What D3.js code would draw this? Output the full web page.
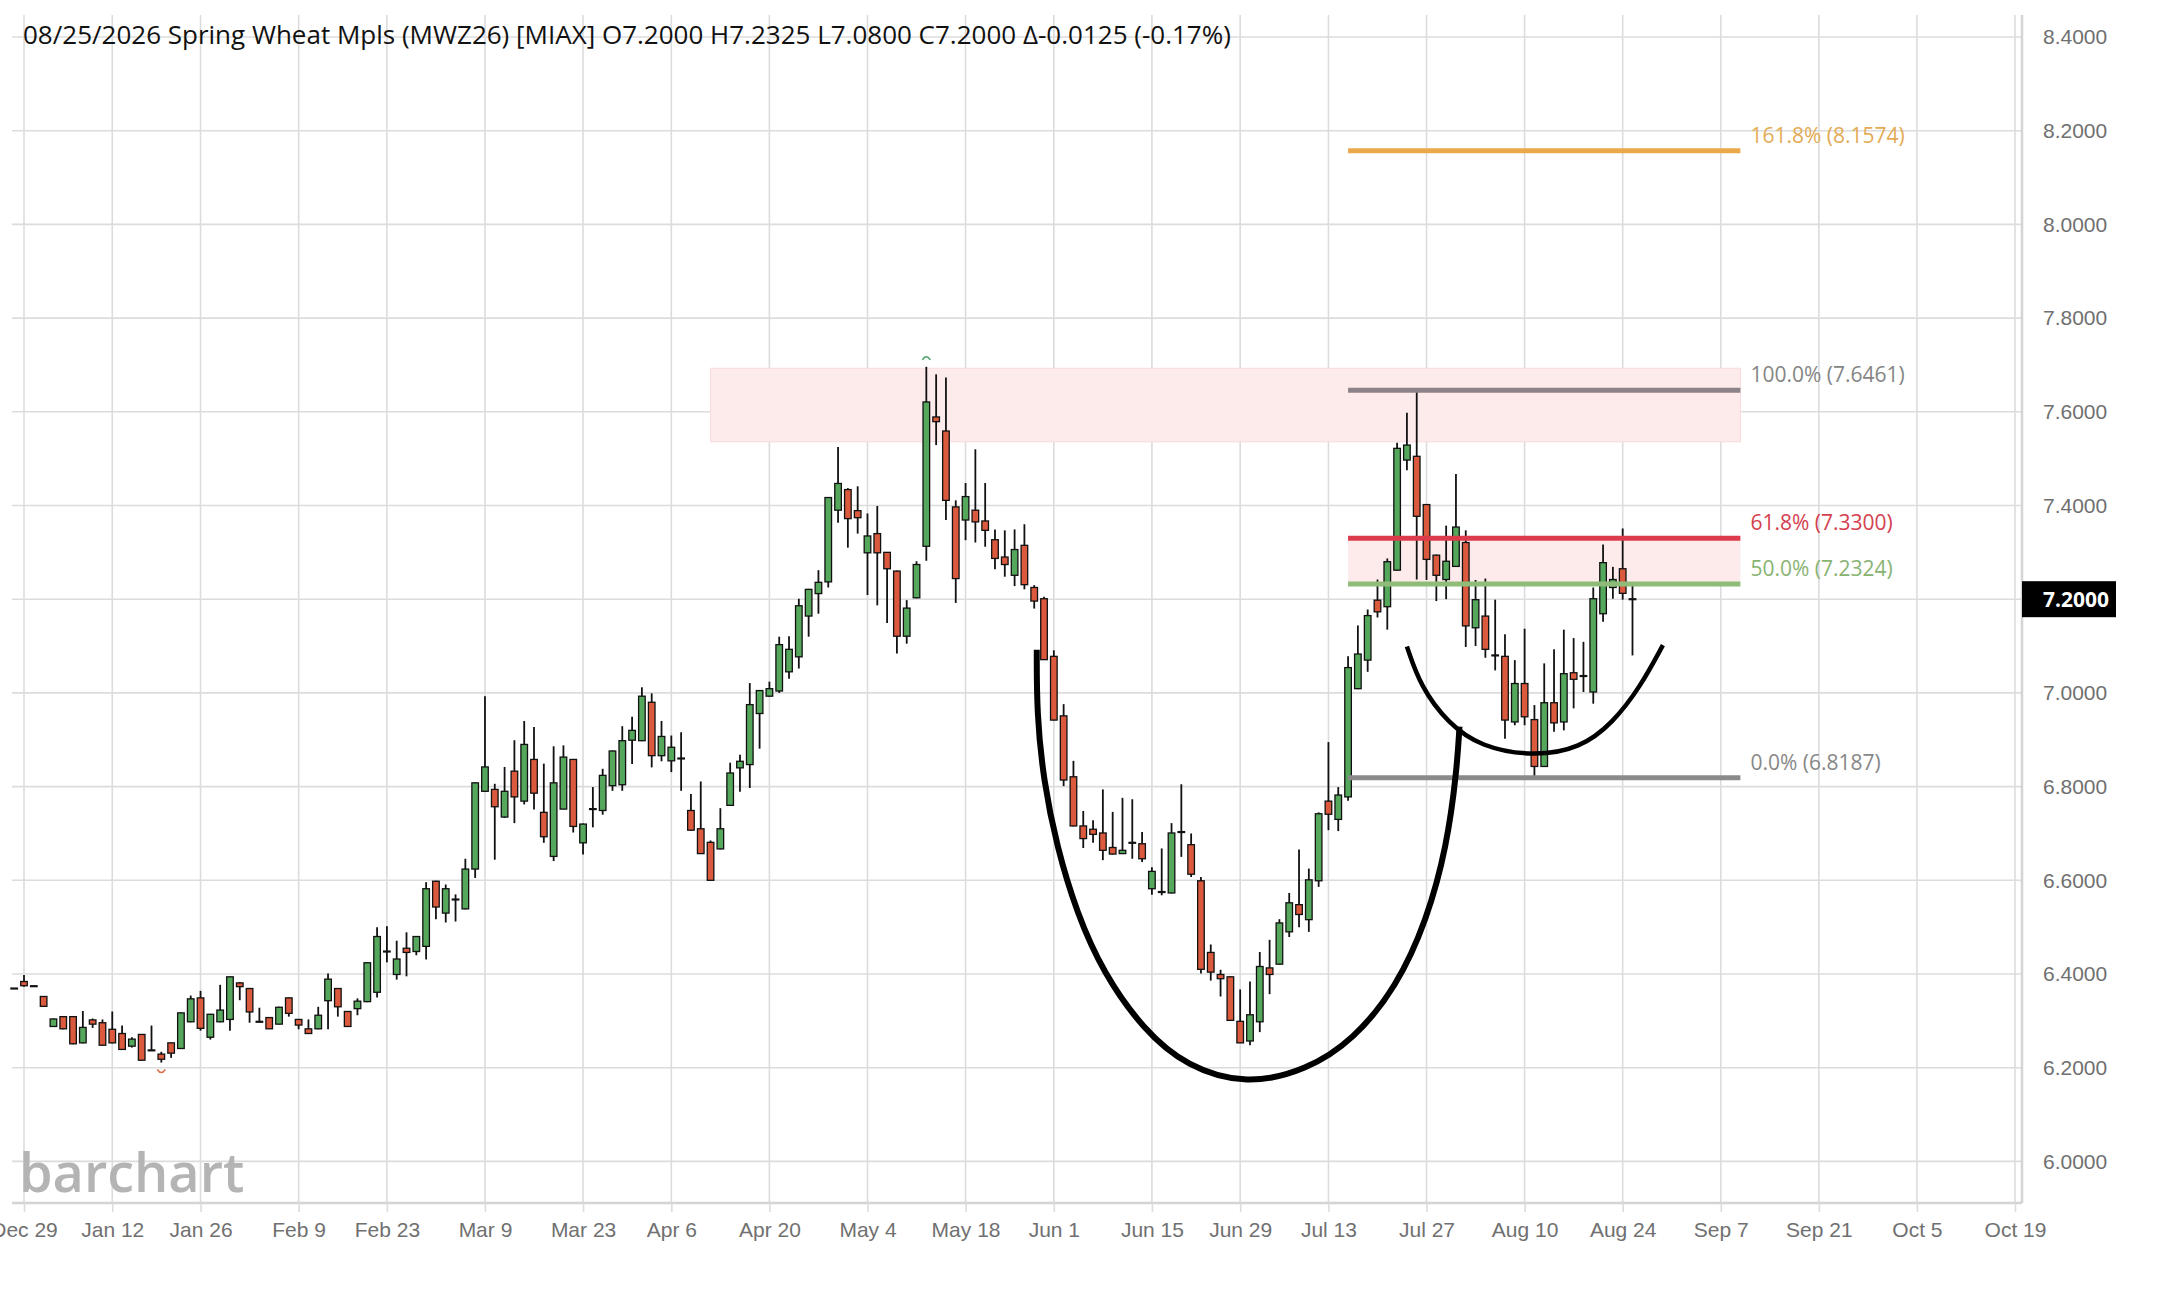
<!DOCTYPE html>
<html>
<head>
<meta charset="utf-8">
<script src="https://cdn.jsdelivr.net/npm/d3@7"></script>
<style>
  body { margin: 0; background: #fff; }
  svg { display: block; font-family: "Open Sans", sans-serif; }
</style>
</head>
<body>
<svg width="2161" height="1293"></svg>
<script>
// daily bars, MWZ26, 12/26/2025 .. 08/25/2026
const firstDay = "2025-12-26";
const lastAxisDay = "2026-10-19";
const holidays = ["2026-01-01", "2026-01-19", "2026-02-16", "2026-04-03", "2026-05-25", "2026-06-19", "2026-07-03"];

const opens = [6.369,
  6.384, 6.374, 6.352, 6.288, 6.309, 6.309, 6.253, 6.302, 6.296,
  6.282, 6.273, 6.246, 6.271, 6.237, 6.229, 6.253, 6.241, 6.298,
  6.349, 6.265, 6.298, 6.303, 6.381, 6.369, 6.298, 6.307, 6.293, 6.349,
  6.303, 6.283, 6.283, 6.343, 6.369, 6.320, 6.326, 6.341, 6.361,
  6.448, 6.399, 6.455, 6.448, 6.459, 6.598, 6.530, 6.559, 6.539, 6.624,
  6.790, 6.794, 6.735, 6.833, 6.769, 6.858, 6.745, 6.651, 6.752, 6.858,
  6.680, 6.752, 6.749, 6.802, 6.804, 6.899, 6.898, 6.980, 6.866,
  6.855, 6.860, 6.749, 6.710, 6.681, 6.667, 6.760, 6.840, 6.847, 6.956,
  6.993, 7.004, 7.045, 7.077, 7.164, 7.212, 7.237, 7.390, 7.434, 7.389,
  7.299, 7.340, 7.300, 7.260, 7.121, 7.203, 7.313, 7.589, 7.559, 7.397,
  7.369, 7.390, 7.367, 7.327, 7.290, 7.251, 7.315, 7.225, 7.201,
  7.078, 6.951, 6.821, 6.716, 6.709, 6.701, 6.670, 6.657, 6.680, 6.678,
  6.582, 6.575, 6.573, 6.703, 6.676, 6.599, 6.446, 6.399, 6.394,
  6.299, 6.257, 6.298, 6.413, 6.421, 6.490, 6.548, 6.516, 6.599,
  6.769, 6.730, 6.778, 7.009, 7.070, 7.198, 7.184, 7.262, 7.497, 7.505,
  7.402, 7.294, 7.242, 7.270, 7.321, 7.139, 7.164, 7.080, 7.078, 6.938,
  7.020, 6.943, 6.843, 6.979, 6.938, 7.043, 7.036, 7.002, 7.169, 7.225,
  7.265, 7.200];
const highs = [6.370,
  6.398, 6.375, 6.353, 6.305, 6.310, 6.310, 6.321, 6.305, 6.303,
  6.320, 6.290, 6.265, 6.272, 6.290, 6.234, 6.254, 6.318, 6.354,
  6.364, 6.315, 6.377, 6.394, 6.383, 6.370, 6.328, 6.308, 6.330, 6.350,
  6.304, 6.303, 6.330, 6.401, 6.370, 6.321, 6.348, 6.425, 6.500,
  6.502, 6.471, 6.489, 6.481, 6.596, 6.599, 6.591, 6.570, 6.646, 6.809,
  6.993, 6.806, 6.842, 6.899, 6.940, 6.927, 6.849, 6.886, 6.888, 6.859,
  6.721, 6.799, 6.838, 6.877, 6.929, 6.949, 7.012, 6.999, 6.940,
  6.909, 6.916, 6.784, 6.811, 6.685, 6.754, 6.851, 6.868, 7.021, 7.006,
  7.024, 7.120, 7.121, 7.201, 7.222, 7.262, 7.418, 7.525, 7.437, 7.441,
  7.383, 7.399, 7.301, 7.261, 7.198, 7.281, 7.696, 7.680, 7.673, 7.411,
  7.448, 7.520, 7.448, 7.349, 7.347, 7.349, 7.360, 7.230, 7.205,
  7.091, 6.976, 6.855, 6.748, 6.728, 6.794, 6.746, 6.776, 6.773, 6.703,
  6.628, 6.668, 6.722, 6.805, 6.700, 6.607, 6.463, 6.409, 6.395,
  6.367, 6.384, 6.447, 6.473, 6.517, 6.573, 6.666, 6.625, 6.745,
  6.895, 6.799, 7.078, 7.144, 7.178, 7.242, 7.287, 7.534, 7.598, 7.646,
  7.403, 7.295, 7.357, 7.467, 7.347, 7.241, 7.244, 7.199, 7.125, 7.070,
  7.137, 6.974, 7.063, 7.093, 7.135, 7.117, 7.109, 7.225, 7.317, 7.269,
  7.351, 7.2325];
const lows = [6.368,
  6.373, 6.373, 6.330, 6.287, 6.282, 6.250, 6.252, 6.285, 6.247,
  6.252, 6.238, 6.243, 6.215, 6.236, 6.211, 6.221, 6.240, 6.297,
  6.279, 6.260, 6.297, 6.279, 6.344, 6.296, 6.297, 6.283, 6.292, 6.309,
  6.282, 6.272, 6.282, 6.282, 6.309, 6.287, 6.312, 6.340, 6.350,
  6.425, 6.388, 6.395, 6.440, 6.431, 6.517, 6.510, 6.512, 6.538, 6.605,
  6.789, 6.644, 6.733, 6.722, 6.762, 6.751, 6.680, 6.641, 6.752, 6.702,
  6.655, 6.713, 6.740, 6.791, 6.791, 6.848, 6.897, 6.841, 6.854,
  6.831, 6.791, 6.706, 6.656, 6.600, 6.666, 6.759, 6.789, 6.797, 6.881,
  6.992, 7.000, 7.030, 7.052, 7.120, 7.169, 7.225, 7.363, 7.310, 7.340,
  7.209, 7.187, 7.149, 7.084, 7.105, 7.202, 7.282, 7.529, 7.369, 7.192,
  7.326, 7.321, 7.312, 7.264, 7.248, 7.228, 7.221, 7.180, 7.070,
  6.941, 6.801, 6.715, 6.669, 6.680, 6.643, 6.655, 6.656, 6.646, 6.639,
  6.569, 6.568, 6.572, 6.650, 6.607, 6.401, 6.386, 6.352, 6.301,
  6.253, 6.248, 6.276, 6.357, 6.420, 6.479, 6.500, 6.490, 6.586,
  6.707, 6.705, 6.770, 7.008, 7.045, 7.161, 7.135, 7.261, 7.475, 7.242,
  7.241, 7.196, 7.200, 7.269, 7.098, 7.100, 7.075, 7.048, 6.902, 6.931,
  6.931, 6.819, 6.842, 6.917, 6.920, 6.967, 7.002, 6.977, 7.152, 7.201,
  7.199, 7.080];
const closes = [6.369,
  6.375, 6.374, 6.331, 6.304, 6.283, 6.251, 6.286, 6.293, 6.248,
  6.253, 6.239, 6.261, 6.216, 6.237, 6.218, 6.231, 6.317, 6.347,
  6.284, 6.314, 6.323, 6.394, 6.373, 6.319, 6.298, 6.283, 6.329, 6.316,
  6.291, 6.273, 6.312, 6.389, 6.330, 6.288, 6.342, 6.424, 6.480,
  6.448, 6.432, 6.446, 6.480, 6.582, 6.543, 6.582, 6.559, 6.624, 6.808,
  6.842, 6.757, 6.790, 6.778, 6.890, 6.786, 6.693, 6.808, 6.863, 6.715,
  6.720, 6.752, 6.824, 6.876, 6.898, 6.920, 6.993, 6.866, 6.907,
  6.884, 6.860, 6.707, 6.657, 6.600, 6.710, 6.829, 6.854, 6.975, 7.005,
  7.009, 7.103, 7.093, 7.186, 7.221, 7.236, 7.417, 7.447, 7.372, 7.374,
  7.335, 7.299, 7.265, 7.121, 7.181, 7.274, 7.621, 7.579, 7.411, 7.244,
  7.419, 7.365, 7.347, 7.287, 7.274, 7.306, 7.231, 7.196, 7.071,
  6.942, 6.814, 6.716, 6.689, 6.698, 6.664, 6.656, 6.664, 6.680, 6.646,
  6.619, 6.575, 6.701, 6.703, 6.613, 6.410, 6.404, 6.390, 6.301,
  6.253, 6.313, 6.416, 6.399, 6.509, 6.552, 6.527, 6.601, 6.742,
  6.741, 6.782, 7.054, 7.083, 7.165, 7.173, 7.280, 7.522, 7.529, 7.377,
  7.285, 7.251, 7.281, 7.354, 7.143, 7.199, 7.093, 7.080, 6.942, 7.020,
  6.949, 6.843, 6.979, 6.936, 7.041, 7.029, 7.036, 7.201, 7.278, 7.242,
  7.2125, 7.200];

const tickDays = ["2025-12-29", "2026-01-12", "2026-01-26", "2026-02-09", "2026-02-23", "2026-03-09",
  "2026-03-23", "2026-04-06", "2026-04-20", "2026-05-04", "2026-05-18", "2026-06-01", "2026-06-15",
  "2026-06-29", "2026-07-13", "2026-07-27", "2026-08-10", "2026-08-24", "2026-09-07", "2026-09-21",
  "2026-10-05", "2026-10-19"];
const tickLabels = ["Dec 29", "Jan 12", "Jan 26", "Feb 9", "Feb 23", "Mar 9", "Mar 23", "Apr 6", "Apr 20",
  "May 4", "May 18", "Jun 1", "Jun 15", "Jun 29", "Jul 13", "Jul 27", "Aug 10", "Aug 24", "Sep 7",
  "Sep 21", "Oct 5", "Oct 19"];
const priceTicks = [6.0, 6.2, 6.4, 6.6, 6.8, 7.0, 7.2, 7.4, 7.6, 7.8, 8.0, 8.2, 8.4];
const lastPrice = 7.2;

// fibonacci tool drawn on the Jul/Aug swing
const fibLevels = [8.1574, 7.6461, 7.33, 7.2324, 6.8187];
const fibLabels = ["161.8% (8.1574)", "100.0% (7.6461)", "61.8% (7.3300)", "50.0% (7.2324)", "0.0% (6.8187)"];
const fibFrom = "2026-07-15", fibTo = "2026-09-09";
const zoneFrom = "2026-04-10";
const zoneRange = [7.536, 7.693];

// hand-drawn cup and handle, [bar index, price]
const cupPts = [[104.26, 7.092], [104.26, 6.957], [104.94, 6.814], [106.3, 6.672], [108.34, 6.53], [111.05, 6.402],
  [115.13, 6.281], [119.56, 6.202], [125.68, 6.163], [131.8, 6.195], [136.55, 6.259], [140.97, 6.373],
  [144.03, 6.515], [146.07, 6.672], [147.09, 6.835], [147.36, 6.928]];
const handlePts = [[142.0, 7.099], [143.4, 7.013], [146.2, 6.935], [149.5, 6.885], [154.9, 6.864], [159.7, 6.882],
  [163.0, 6.936], [165.8, 7.013], [168.1, 7.102]];

const title = "08/25/2026 Spring Wheat Mpls (MWZ26) [MIAX] O7.2000 H7.2325 L7.0800 C7.2000 \u0394-0.0125 (-0.17%)";

// trading calendar
const days = [];
for (let d = new Date(firstDay + "T12:00:00Z"); d.toISOString().slice(0, 10) <= lastAxisDay; d.setUTCDate(d.getUTCDate() + 1)) {
  const iso = d.toISOString().slice(0, 10);
  const wd = d.getUTCDay();
  if (wd === 0 || wd === 6 || holidays.includes(iso)) continue;
  days.push(iso);
}
const di = (s) => days.indexOf(s);

const bars = opens.map((o, i) => ({ i: i, o: o, h: highs[i], l: lows[i], c: closes[i] }));

const svg = d3.select("svg");
const plotL = 12, plotR = 2022, plotT = 15, plotB = 1203;

const x = d3.scaleLinear().domain([di("2025-12-29"), di("2026-10-19")]).range([24, 2015]);
const y = d3.scaleLinear().domain([6.0, 8.4]).range([1161.4, 37]);

const colors = {
  grid: "#dcdcdc", up: "#55a75c", down: "#db5a3d",
  fib: ["#e9a94b", "#8c8388", "#db3b4b", "#8fbd79", "#8a8a8a"],
  fibText: ["#e3ab55", "#858585", "#d4404f", "#88b472", "#888888"],
  zone: "#fdebec"
};

// grid
svg.append("g")
  .selectAll("line")
  .data(priceTicks)
  .join("line")
  .attr("x1", plotL).attr("x2", plotR)
  .attr("y1", (d) => y(d)).attr("y2", (d) => y(d))
  .style("stroke", colors.grid).style("stroke-width", 1.6);

svg.append("g")
  .selectAll("line")
  .data(tickDays)
  .join("line")
  .attr("x1", (d) => x(di(d))).attr("x2", (d) => x(di(d)))
  .attr("y1", plotT).attr("y2", plotB)
  .style("stroke", colors.grid).style("stroke-width", 1.6);

// frame
svg.append("line").attr("x1", plotR).attr("x2", plotR).attr("y1", plotT).attr("y2", plotB)
  .style("stroke", "#d4d4d4").style("stroke-width", 2.5);

// watermark
svg.append("text")
  .attr("x", 19).attr("y", 1192)
  .style("font-size", "54px").style("font-weight", 600)
  .style("fill", "#b4b4b4")
  .text("barchart");

// zones
svg.append("rect")
  .attr("x", x(di(zoneFrom))).attr("width", x(di(fibTo)) - x(di(zoneFrom)))
  .attr("y", y(zoneRange[1])).attr("height", y(zoneRange[0]) - y(zoneRange[1]))
  .style("fill", colors.zone).style("stroke", "#f8dadd").style("stroke-width", 1);

svg.append("rect")
  .attr("x", x(di(fibFrom))).attr("width", x(di(fibTo)) - x(di(fibFrom)))
  .attr("y", y(fibLevels[2])).attr("height", y(fibLevels[3]) - y(fibLevels[2]))
  .style("fill", colors.zone);

// candles
const bw = 6.6;
const candle = svg.append("g")
  .selectAll("g")
  .data(bars)
  .join("g");

candle.append("line")
  .attr("x1", (d) => x(d.i)).attr("x2", (d) => x(d.i))
  .attr("y1", (d) => y(d.h)).attr("y2", (d) => y(d.l))
  .style("stroke", "#111").style("stroke-width", 1.8);

candle.filter((d) => d.o !== d.c)
  .append("rect")
  .attr("x", (d) => x(d.i) - bw / 2)
  .attr("width", bw)
  .attr("y", (d) => y(Math.max(d.o, d.c)))
  .attr("height", (d) => Math.max(2, Math.abs(y(d.o) - y(d.c))))
  .style("fill", (d) => (d.c > d.o ? colors.up : colors.down))
  .style("stroke", "#111").style("stroke-width", 1.3);

candle.filter((d) => d.o === d.c)
  .append("line")
  .attr("x1", (d) => x(d.i) - bw / 2 - 0.6).attr("x2", (d) => x(d.i) + bw / 2 + 0.6)
  .attr("y1", (d) => y(d.c)).attr("y2", (d) => y(d.c))
  .style("stroke", "#111").style("stroke-width", 2.2);

// high / low markers
const hiBar = bars.reduce((a, b) => (b.h > a.h ? b : a));
const loBar = bars.reduce((a, b) => (b.l < a.l ? b : a));
svg.append("path")
  .attr("d", `M${x(hiBar.i) - 4},${y(hiBar.h) - 7} Q${x(hiBar.i)},${y(hiBar.h) - 13} ${x(hiBar.i) + 4},${y(hiBar.h) - 7}`)
  .style("fill", "none").style("stroke", "#4fa36a").style("stroke-width", 1.6);
svg.append("path")
  .attr("d", `M${x(loBar.i) - 4},${y(loBar.l) + 7} Q${x(loBar.i)},${y(loBar.l) + 13} ${x(loBar.i) + 4},${y(loBar.l) + 7}`)
  .style("fill", "none").style("stroke", "#e0704f").style("stroke-width", 1.6);

// fib levels
svg.append("g")
  .selectAll("line")
  .data(fibLevels)
  .join("line")
  .attr("x1", x(di(fibFrom))).attr("x2", x(di(fibTo)))
  .attr("y1", (d) => y(d)).attr("y2", (d) => y(d))
  .style("stroke", (d, i) => colors.fib[i]).style("stroke-width", 5);

svg.append("g")
  .selectAll("text")
  .data(fibLevels)
  .join("text")
  .attr("x", x(di(fibTo)) + 10)
  .attr("y", (d) => y(d) - 8)
  .style("font-size", "21px")
  .style("fill", (d, i) => colors.fibText[i])
  .text((d, i) => fibLabels[i]);

// cup & handle strokes
const curve = d3.line()
  .x((d) => x(d[0]))
  .y((d) => y(d[1]))
  .curve(d3.curveBasis);

svg.append("path").attr("d", curve(cupPts))
  .style("fill", "none").style("stroke", "#000").style("stroke-width", 6);
svg.append("path").attr("d", curve(handlePts))
  .style("fill", "none").style("stroke", "#000").style("stroke-width", 4.5);

// axes
const yAxis = svg.append("g")
  .attr("transform", `translate(${plotR},0)`)
  .call(d3.axisRight(y).tickValues(priceTicks).tickFormat(d3.format(".4f")).tickSize(0).tickPadding(21));
yAxis.select(".domain").remove();
yAxis.selectAll("text").style("font-size", "21px").style("fill", "#707070").attr("font-family", null);

const xAxis = svg.append("g")
  .attr("transform", `translate(0,${plotB})`)
  .call(d3.axisBottom(x).tickValues(tickDays.map(di)).tickFormat((d, i) => tickLabels[i]).tickSize(9).tickPadding(10));
xAxis.select(".domain").attr("d", `M${plotL},0H${plotR}`).style("stroke", "#d4d4d4").style("stroke-width", 2.5);
xAxis.selectAll(".tick line").style("stroke", colors.grid).style("stroke-width", 1.6);
xAxis.selectAll("text").style("font-size", "21px").style("fill", "#707070").attr("font-family", null);

// last price tag
svg.append("rect")
  .attr("x", plotR).attr("y", y(lastPrice) - 18)
  .attr("width", 94).attr("height", 36)
  .style("fill", "#000");
svg.append("text")
  .attr("x", plotR + 21).attr("y", y(lastPrice))
  .attr("dy", "0.35em")
  .style("font-size", "21px").style("font-weight", 700).style("fill", "#fff")
  .text(d3.format(".4f")(lastPrice));

// title
svg.append("text")
  .attr("x", 23).attr("y", 44)
  .style("font-size", "26px").style("fill", "#111")
  .text(title);
</script>
</body>
</html>
